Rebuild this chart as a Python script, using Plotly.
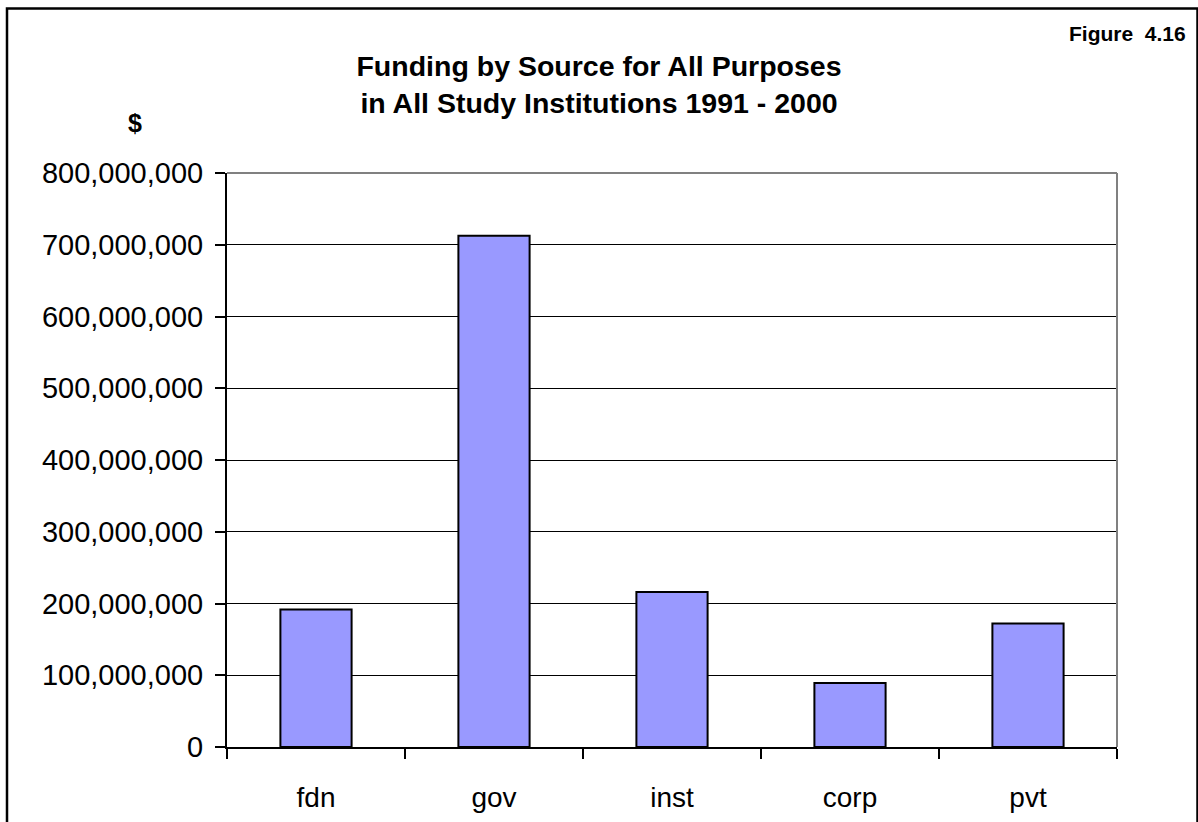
import plotly.graph_objects as go

# Funding totals by source, 1991 - 2000 (US dollars)
sources = ["fdn", "gov", "inst", "corp", "pvt"]
funding = [191_600_000, 712_500_000, 216_000_000, 89_300_000, 172_100_000]
y_ticks = [0, 100_000_000, 200_000_000, 300_000_000, 400_000_000,
           500_000_000, 600_000_000, 700_000_000, 800_000_000]

W, H = 1198, 822
L, R, T, B = 227, 81, 173, 75
PW, PH = W - L - R, H - T - B


def px(x):
    return (x - L) / PW


def py(y):
    return (H - B - y) / PH


FONT = "Liberation Sans, Arial, sans-serif"

fig = go.Figure(
    go.Bar(
        x=sources,
        y=funding,
        marker=dict(color="#9999FF", line=dict(color="black", width=2)),
        hoverinfo="x+y",
    )
)

fig.update_layout(
    width=W,
    height=H,
    margin=dict(l=L, r=R, t=T, b=B, pad=0, autoexpand=False),
    paper_bgcolor="white",
    plot_bgcolor="white",
    bargap=0.6,
    showlegend=False,
    font=dict(family=FONT, color="black"),
    title=dict(
        text="<b>Funding by Source for All Purposes<br>in All Study Institutions 1991 - 2000</b>",
        x=0.5,
        xref="container",
        xanchor="center",
        y=1 - 76 / H,
        yref="container",
        yanchor="middle",
        font=dict(family=FONT, size=28.5, color="black"),
    ),
)

fig.update_xaxes(
    type="category",
    automargin=False,
    tickson="boundaries",
    ticks="outside",
    ticklen=10,
    tickwidth=2,
    tickcolor="black",
    showline=True,
    linecolor="black",
    linewidth=2,
    showgrid=False,
    tickfont=dict(family=FONT, size=28, color="black"),
    ticklabelstandoff=24,
)

fig.update_yaxes(
    range=[0, 800_000_000],
    automargin=False,
    tickvals=y_ticks,
    tickformat=",d",
    ticks="outside",
    ticklen=10,
    tickwidth=2,
    tickcolor="black",
    showline=True,
    linecolor="black",
    linewidth=2,
    showgrid=True,
    gridcolor="black",
    gridwidth=1,
    zeroline=False,
    tickfont=dict(family=FONT, size=29, color="black"),
    ticklabelstandoff=6,
)

# grey frame along the top and right of the plot area
fig.add_shape(type="line", xref="paper", yref="paper", x0=0, x1=1, y0=1, y1=1,
              line=dict(color="#808080", width=2))
fig.add_shape(type="line", xref="paper", yref="paper", x0=1, x1=1, y0=0, y1=1,
              line=dict(color="#808080", width=2))

# outer border of the figure
fig.add_shape(type="rect", xref="paper", yref="paper",
              x0=px(7), x1=px(1197.5), y0=py(840), y1=py(8.5),
              line=dict(color="black", width=2.5), fillcolor="rgba(0,0,0,0)")

fig.add_annotation(text="<b>$</b>", xref="paper", yref="paper",
                   x=px(135), y=py(123), xanchor="center", yanchor="middle",
                   showarrow=False, font=dict(family=FONT, size=25, color="black"))

fig.add_annotation(text="<b>Figure\u00a0 4.16</b>", xref="paper", yref="paper",
                   x=px(1127.5), y=py(33), xanchor="center", yanchor="middle",
                   showarrow=False, font=dict(family=FONT, size=21, color="black"))

fig.write_html("out.html")
